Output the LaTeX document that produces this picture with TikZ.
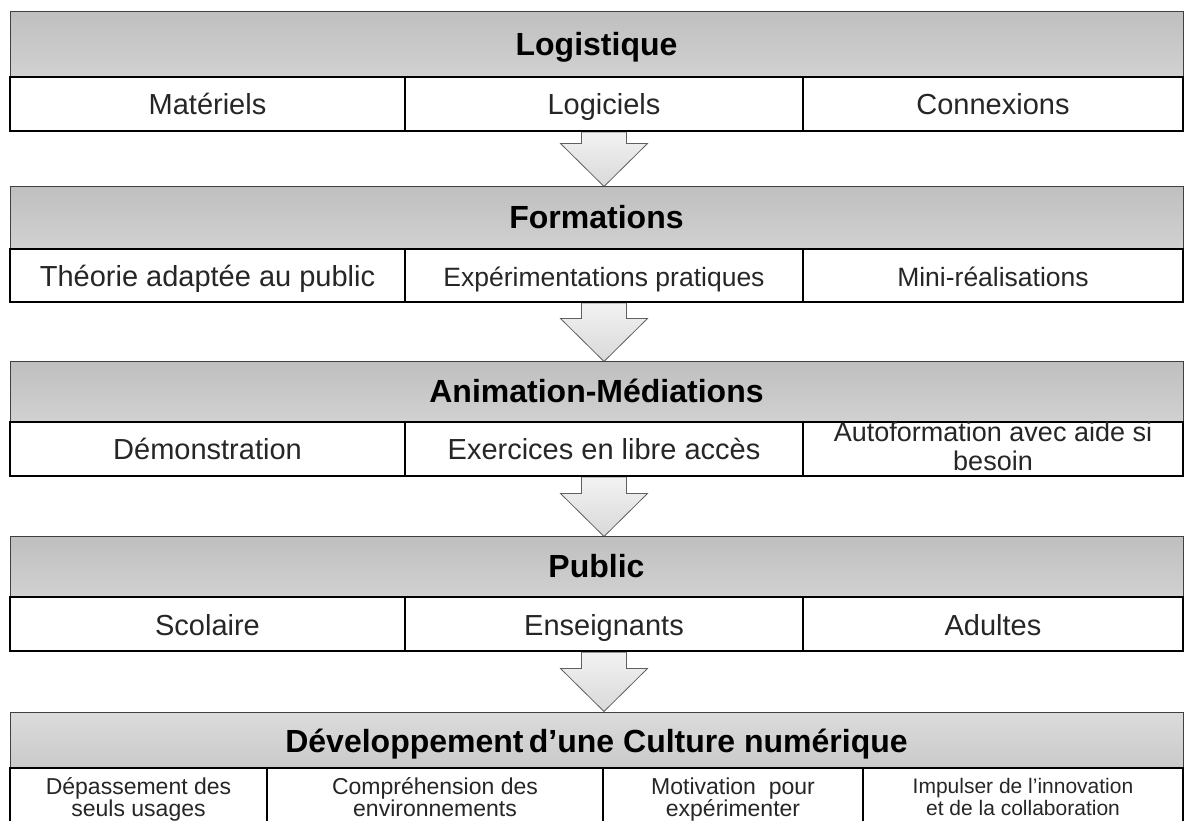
\documentclass[tikz,border=0pt]{standalone}
\usepackage{fontspec}
\setmainfont{Liberation Sans}
\usetikzlibrary{backgrounds}
\tikzset{
  headbox/.style={draw=black!75, line width=1pt, top color=gray!50, bottom color=gray!36,
    minimum width=1173pt, inner sep=0pt, text height=25pt, text depth=3pt,
    font=\fontsize{32}{36}\selectfont\bfseries},
  cellcore/.style={draw=black, line width=2.2pt, fill=white, inner sep=0pt, text=black!85},
  cellbox/.style={cellcore, text height=24pt, text depth=2pt, font=\fontsize{29}{32}\selectfont},
  smallcell/.style={cellbox, font=\fontsize{26.5}{28}\selectfont},
  twoline/.style={cellcore, align=center, font=\fontsize{23}{22}\selectfont},
  flecha/.style={draw=gray!75!black, line width=0.8pt, top color=gray!10, bottom color=gray!30}
}

\begin{document}
\begin{tikzpicture}[x=1pt,y=1pt]
        \useasboundingbox (0,0) rectangle (1186,820);
        \clip (0,0) rectangle (1186,820);
        % Logistique
        \node[headbox, minimum height=65pt] (h1) at (596.5,775.5) {Logistique};
        \node[cellbox, minimum width=395pt, minimum height=54pt] (r1a) at (207.5,716) {Matériels};
        \node[cellbox, minimum width=398pt, minimum height=54pt] (r1b) at (604,716) {Logiciels};
        \node[cellbox, minimum width=380pt, minimum height=54pt] (r1c) at (993,716) {Connexions};
        % Formations
        \node[headbox, minimum height=62pt] (h2) at (596.5,602) {Formations};
        \node[cellbox, minimum width=395pt, minimum height=53pt] (r2a) at (207.5,544.5) {Théorie adaptée au public};
        \node[smallcell, minimum width=398pt, minimum height=53pt] (r2b) at (604,544.5) {Expérimentations pratiques};
        \node[smallcell, minimum width=380pt, minimum height=53pt] (r2c) at (993,544.5) {Mini-réalisations};
        % Animation-Mediations
        \node[headbox, minimum height=60pt] (h3) at (596.5,428) {Animation-Médiations};
        \node[cellbox, minimum width=395pt, minimum height=54pt] (r3a) at (207.5,371) {Démonstration};
        \node[cellbox, minimum width=398pt, minimum height=54pt] (r3b) at (604,371) {Exercices en libre accès};
        \node[twoline, font=\fontsize{27}{28.5}\selectfont, minimum width=380pt, minimum height=54pt] (r3c) at (993,371) {Autoformation avec aide si\\besoin\vphantom{g}};
        % Public
        \node[headbox, minimum height=60pt] (h4) at (596.5,253) {Public};
        \node[cellbox, minimum width=395pt, minimum height=54pt] (r4a) at (207.5,196) {Scolaire};
        \node[cellbox, minimum width=398pt, minimum height=54pt] (r4b) at (604,196) {Enseignants};
        \node[cellbox, minimum width=380pt, minimum height=54pt] (r4c) at (993,196) {Adultes};
        % Culture numerique
        \node[headbox, minimum height=58pt, top color=gray!28, bottom color=gray!42] (h5) at (596.5,79) {Développement\,d’une Culture numérique};
        \node[twoline, minimum width=257pt, minimum height=60pt] (r5a) at (138.5,22) {\vphantom{É}Dépassement des\\seuls usages\vphantom{g}};
        \node[twoline, minimum width=336pt, minimum height=60pt] (r5b) at (435,22) {\vphantom{É}Compréhension des\\environnements\vphantom{g}};
        \node[twoline, minimum width=260pt, minimum height=60pt] (r5c) at (733,22) {\vphantom{É}Motivation~ pour\\expérimenter\vphantom{g}};
        \node[twoline, font=\fontsize{21}{22}\selectfont, minimum width=320pt, minimum height=60pt] (r5d) at (1023,22) {\vphantom{É}Impulser de l’innovation\\et de la collaboration\vphantom{g}};
        % fleches
        \coordinate (t1) at (r1b.south |- h2.north);
        \coordinate (t2) at (r2b.south |- h3.north);
        \coordinate (t3) at (r3b.south |- h4.north);
        \coordinate (t4) at (r4b.south |- h5.north);
        \begin{scope}[on background layer]
        \draw[flecha] ([xshift=-22.5pt]r1b.south) -- ([xshift=-22.5pt,yshift=43pt]t1) -- ([xshift=-43.5pt,yshift=43pt]t1) -- (t1) -- ([xshift=43.5pt,yshift=43pt]t1) -- ([xshift=22.5pt,yshift=43pt]t1) -- ([xshift=22.5pt]r1b.south) -- cycle;
        \draw[flecha] ([xshift=-22.5pt]r2b.south) -- ([xshift=-22.5pt,yshift=43pt]t2) -- ([xshift=-43.5pt,yshift=43pt]t2) -- (t2) -- ([xshift=43.5pt,yshift=43pt]t2) -- ([xshift=22.5pt,yshift=43pt]t2) -- ([xshift=22.5pt]r2b.south) -- cycle;
        \draw[flecha] ([xshift=-22.5pt]r3b.south) -- ([xshift=-22.5pt,yshift=43pt]t3) -- ([xshift=-43.5pt,yshift=43pt]t3) -- (t3) -- ([xshift=43.5pt,yshift=43pt]t3) -- ([xshift=22.5pt,yshift=43pt]t3) -- ([xshift=22.5pt]r3b.south) -- cycle;
        \draw[flecha] ([xshift=-22.5pt]r4b.south) -- ([xshift=-22.5pt,yshift=43pt]t4) -- ([xshift=-43.5pt,yshift=43pt]t4) -- (t4) -- ([xshift=43.5pt,yshift=43pt]t4) -- ([xshift=22.5pt,yshift=43pt]t4) -- ([xshift=22.5pt]r4b.south) -- cycle;
        \end{scope}
\end{tikzpicture}
\end{document}
